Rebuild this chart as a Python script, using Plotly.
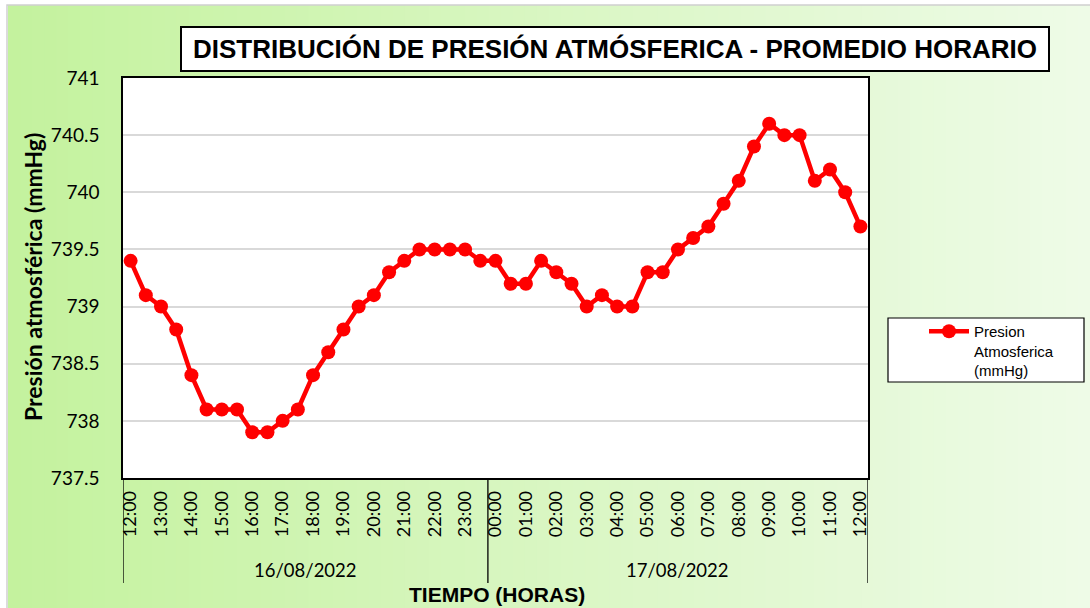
import plotly.graph_objects as go

# ---------------- data ----------------
hour_labels = ["12:00", "13:00", "14:00", "15:00", "16:00", "17:00", "18:00", "19:00",
               "20:00", "21:00", "22:00", "23:00", "00:00", "01:00", "02:00", "03:00",
               "04:00", "05:00", "06:00", "07:00", "08:00", "09:00", "10:00", "11:00", "12:00"]
dates = ["16/08/2022", "17/08/2022"]
pressure = [739.4, 739.1, 739.0, 738.8, 738.4, 738.1, 738.1, 738.1, 737.9, 737.9,
            738.0, 738.1, 738.4, 738.6, 738.8, 739.0, 739.1, 739.3, 739.4, 739.5,
            739.5, 739.5, 739.5, 739.4, 739.4, 739.2, 739.2, 739.4, 739.3, 739.2,
            739.0, 739.1, 739.0, 739.0, 739.3, 739.3, 739.5, 739.6, 739.7, 739.9,
            740.1, 740.4, 740.6, 740.5, 740.5, 740.1, 740.2, 740.0, 739.7]
y_ticks = [737.5, 738, 738.5, 739, 739.5, 740, 740.5, 741]
y_ticktext = ["737.5", "738", "738.5", "739", "739.5", "740", "740.5", "741"]

series_name = "Presion<br>Atmosferica<br>(mmHg)"
title_text = "DISTRIBUCIÓN DE PRESIÓN ATMÓSFERICA - PROMEDIO HORARIO"
y_title = "Presión atmosférica (mmHg)"
x_title = "TIEMPO (HORAS)"

# ---------------- geometry helpers ----------------
W, H = 1090, 608
L, R, T, B = 123, 868, 78, 478


def px(x):
    return (x - L) / (R - L)


def py(y):
    return (B - y) / (B - T)


n = len(pressure)
xidx = list(range(n))
tickvals = list(range(0, n, 2))
split = 23.5  # boundary between the two dates

fig = go.Figure()
fig.add_trace(go.Scatter(
    x=xidx, y=pressure, mode="lines+markers", name=series_name,
    line=dict(color="#ff0000", width=4.5),
    marker=dict(color="#ff0000", size=14),
))

shapes = []
# background gradient
x0, x1, y0, y1 = 8, W, 5, H
c0 = (196, 242, 158)
c1 = (238, 251, 231)
N = 90
for i in range(N):
    t = i / (N - 1)
    col = tuple(round(c0[k] + (c1[k] - c0[k]) * t) for k in range(3))
    xa = x0 + (x1 - x0) * i / N
    xb = x0 + (x1 - x0) * (i + 1) / N + 1
    shapes.append(dict(type="rect", xref="paper", yref="paper", layer="below",
                       x0=px(xa), x1=px(xb), y0=py(y1), y1=py(y0),
                       fillcolor="rgb(%d,%d,%d)" % col, line=dict(width=0)))
# chart area outline
shapes.append(dict(type="rect", xref="paper", yref="paper", layer="below",
                   x0=px(7), x1=px(W + 2), y0=py(H + 2), y1=py(5),
                   fillcolor="rgba(0,0,0,0)", line=dict(color="#d0d0d0", width=1.5)))
# plot area white
shapes.append(dict(type="rect", xref="paper", yref="paper", layer="below",
                   x0=0, x1=1, y0=0, y1=1, fillcolor="white", line=dict(width=0)))
# title box
shapes.append(dict(type="rect", xref="paper", yref="paper", layer="below",
                   x0=px(181), x1=px(1049), y0=py(71), y1=py(27),
                   fillcolor="white", line=dict(color="black", width=2)))
# legend box
shapes.append(dict(type="rect", xref="paper", yref="paper", layer="below",
                   x0=px(888), x1=px(1084), y0=py(382), y1=py(318),
                   fillcolor="white", line=dict(color="black", width=1.2)))
# multi-level category separators
for xs in [-0.5, split, n - 0.5]:
    shapes.append(dict(type="line", xref="x", yref="paper", layer="above",
                       x0=xs, x1=xs, y0=0, y1=py(583),
                       line=dict(color="black", width=1.3)))

annotations = [
    dict(text="<b>" + title_text + "</b>", xref="paper", yref="paper",
         x=px(615), y=py(49), xanchor="center", yanchor="middle", showarrow=False,
         font=dict(family="Liberation Sans Narrow, Arial Narrow, Liberation Sans, sans-serif",
                   size=26, color="black")),
    dict(text="<b>" + y_title + "</b>", xref="paper", yref="paper",
         x=px(33), y=py(277), xanchor="center", yanchor="middle", showarrow=False,
         textangle=-90, font=dict(family="Lato, sans-serif", size=23, color="black")),
    dict(text="<b>" + x_title + "</b>", xref="paper", yref="paper",
         x=px(497), y=py(594), xanchor="center", yanchor="middle", showarrow=False,
         font=dict(family="Liberation Sans Narrow, Arial Narrow, Liberation Sans, sans-serif",
                   size=21, color="black")),
]
group_centers = [(-0.5 + split) / 2, (split + n - 0.5) / 2]
for d, c in zip(dates, group_centers):
    annotations.append(dict(text=d, xref="x", yref="paper", x=c, y=py(570),
                            xanchor="center", yanchor="middle", showarrow=False,
                            font=dict(family="Lato, sans-serif", size=18.5, color="black")))

fig.update_layout(
    width=W, height=H,
    margin=dict(l=L, r=W - R, t=T, b=H - B, pad=0),
    paper_bgcolor="white", plot_bgcolor="white",
    shapes=shapes, annotations=annotations,
    showlegend=True,
    legend=dict(x=px(924), y=py(315), xanchor="left", yanchor="top",
                bgcolor="rgba(0,0,0,0)", borderwidth=0, valign="top",
                font=dict(family="Liberation Sans, Arial, sans-serif", size=15, color="black"),
                itemwidth=40, tracegroupgap=0),
    xaxis=dict(range=[-0.5, n - 0.5], tickmode="array", tickvals=tickvals,
               ticktext=hour_labels, tickangle=-90, ticks="", showgrid=False,
               ticklabelstandoff=4,
               zeroline=False, showline=True, linecolor="black", linewidth=1.5, mirror=True,
               tickfont=dict(family="Lato, sans-serif", size=18, color="black")),
    yaxis=dict(range=[737.5, 741], tickmode="array", tickvals=y_ticks, ticktext=y_ticktext,
               ticks="", showgrid=True, gridcolor="#d9d9d9", gridwidth=1.5,
               ticklabelstandoff=18,
               zeroline=False, showline=True, linecolor="black", linewidth=1.5, mirror=True,
               tickfont=dict(family="Lato, sans-serif", size=19, color="black")),
)

fig.write_html("out.html", config={"displayModeBar": False},
               post_script="document.body.style.margin='0px';document.body.style.overflow='hidden';")
